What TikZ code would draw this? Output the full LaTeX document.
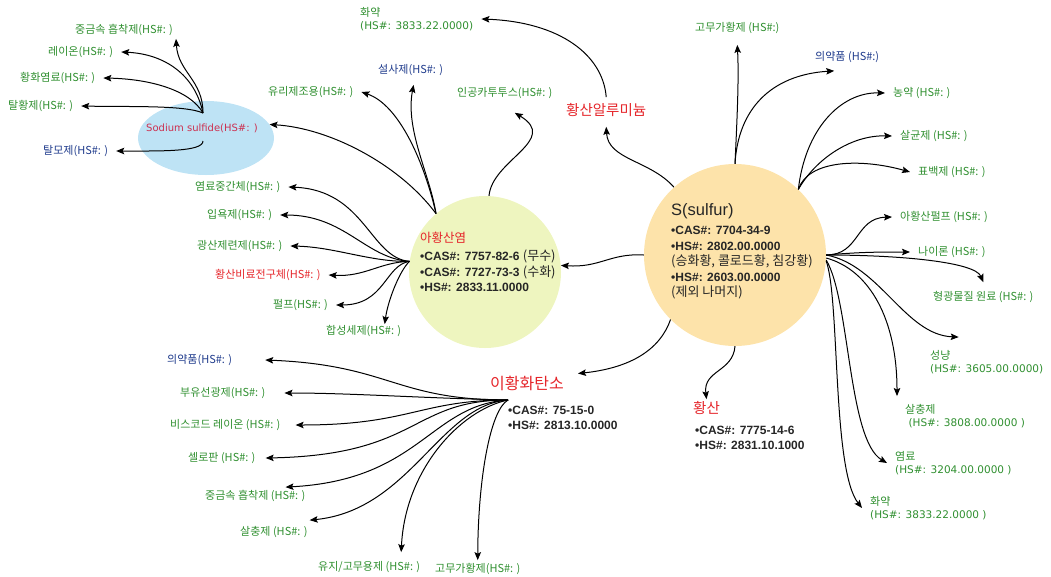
\documentclass[tikz,border=0pt]{standalone}
\usepackage{fontspec}
\setmainfont{Noto Sans CJK KR}
\newfontfamily\kr{Noto Sans CJK KR}
\newfontfamily\dv{DejaVu Sans}
\newfontfamily\lsb{Liberation Sans}
\newcommand\hn[1]{{\dv\fontsize{10.5}{13}\selectfont #1}}
\newcommand\kb[1]{{\kr\mdseries\fontsize{13}{15.5}\selectfont #1}}
\usetikzlibrary{arrows.meta,calc,shapes.geometric}
\definecolor{lg}{HTML}{2F8F2F}
\definecolor{lb}{HTML}{1F3B8C}
\definecolor{lr}{HTML}{E5252A}
\definecolor{lp}{HTML}{CC3050}
\definecolor{fe}{HTML}{BEE3F5}
\definecolor{fy}{HTML}{EEF5BF}
\definecolor{fs}{HTML}{FDE3AA}
\begin{document}
\begin{tikzpicture}[x=1pt,y=-1pt,
  ar/.style={-{Stealth[length=8pt,width=6.5pt,inset=1.5pt]},line width=1pt,black},
  lf/.style={font=\kr\fontsize{11}{13}\selectfont,text=lg,inner xsep=8pt,inner ysep=3pt,anchor=west,align=left},
  lfb/.style={lf,text=lb},
  lfr/.style={lf,text=lr},
  ttl/.style={font=\kr\fontsize{14.5}{16}\selectfont,text=lr,inner sep=2pt,anchor=west},
  info/.style={font=\lsb\bfseries\fontsize{12}{15.5}\selectfont,text=black!85,inner sep=2pt,anchor=west,align=left}]
\useasboundingbox (0,0) rectangle (1051,576);

% main shapes
\node[ellipse,fill=fe,minimum width=136pt,minimum height=74pt,inner sep=0] (E) at (206,138) {};
\node[circle,fill=fy,minimum size=152pt,inner sep=0] (Y) at (485,272) {};
\node[circle,fill=fs,minimum size=182pt,inner sep=0] (S) at (735,255) {};

% texts in shapes
\node[font=\dv\fontsize{10}{12}\selectfont,text=lp,inner sep=2pt,anchor=west] (Et) at (144,128) {Sodium sulfide(HS\#: )};
\node[font=\lsb\fontsize{16.5}{18}\selectfont,text=black!85,inner sep=2pt,anchor=west] (St) at (669,211) {S(sulfur)};
\node[info] (Si) at (669,263) {•CAS\#: 7704-34-9\\•HS\#: 2802.00.0000\\\kb{(승화황, 콜로드황, 침강황)}\\•HS\#: 2603.00.0000\\\kb{(제외 나머지)}};
\node[ttl,font=\kr\fontsize{12.5}{14}\selectfont] (Yt) at (418,238) {아황산염};
\node[info] (Yi) at (418,271) {•CAS\#: 7757-82-6 \kb{(무수)}\\•CAS\#: 7727-73-3 \kb{(수화)}\\•HS\#: 2833.11.0000};
\node[ttl,font=\kr\fontsize{16}{18}\selectfont] (Ct) at (488,383) {이황화탄소};
\node[info] (Ci) at (506,418) {•CAS\#: 75-15-0\\•HS\#: 2813.10.0000};
\node[ttl] (Ht) at (691,408) {황산};
\node[info] (Hi) at (693,438) {•CAS\#: 7775-14-6\\•HS\#: 2831.10.1000};
\node[ttl] (A) at (564,110) {황산알루미늄};
\coordinate (Eo) at (203,113);
\coordinate (Eb) at (203,141);
\coordinate (Co) at (508,400);

% sodium sulfide leaves
\node[lf] (e1) at (67,30) {중금속 흡착제(HS\#: )};
\node[lf] (e2) at (40,52) {레이온(HS\#: )};
\node[lf] (e3) at (12,78) {황화염료(HS\#: )};
\node[lf] (e4) at (0,106) {탈황제(HS\#: )};
\node[lfb] (e5) at (35,151) {탈모제(HS\#: )};

% sulfite leaves
\node[lf] (y1) at (260,92) {유리제조용(HS\#: )};
\node[lfb] (y2) at (370,70) {설사제(HS\#: )};
\node[lf] (y3) at (449,93) {인공카투투스(HS\#: )};
\node[lf] (y4) at (187,187) {염료중간체(HS\#: )};
\node[lf] (y5) at (199,215) {입욕제(HS\#: )};
\node[lf] (y6) at (189,246) {광산제련제(HS\#: )};
\node[lfr] (y7) at (207,275) {황산비료전구체(HS\#: )};
\node[lf] (y8) at (265,305) {펄프(HS\#: )};
\node[lf] (y9) at (318,331) {합성세제(HS\#: )};
\node[lf] (T) at (352,19) {화약\\\hn{(HS\#: 3833.22.0000)}};

% sulfur leaves
\node[lf] (s1) at (687,28) {고무가황제 (HS\#:)};
\node[lfb] (s2) at (807,57) {의약품 (HS\#:)};
\node[lf] (s3) at (885,93) {농약 (HS\#: )};
\node[lf] (s4) at (892,136) {살균제 (HS\#: )};
\node[lf] (s5) at (910,172) {표백제 (HS\#: )};
\node[lf] (s6) at (892,217) {아황산펄프 (HS\#: )};
\node[lf] (s7) at (910,252) {나이론 (HS\#: )};
\node[lf] (s8) at (925,297) {형광물질 원료 (HS\#: )};
\node[lf] (s9) at (922,362) {성냥\\\hn{(HS\#: 3605.00.0000)}};
\node[lf] (s10) at (897,416) {살충제\\\hn{\ (HS\#: 3808.00.0000 )}};
\node[lf] (s11) at (887,463) {염료\\\hn{(HS\#: 3204.00.0000 )}};
\node[lf] (s12) at (862,508) {화약\\\hn{(HS\#: 3833.22.0000 )}};

% carbon disulfide leaves
\node[lfb] (c1) at (159,360) {의약품(HS\#: )};
\node[lf] (c2) at (172,393) {부유선광제(HS\#: )};
\node[lf] (c3) at (162,425) {비스코드 레이온 (HS\#: )};
\node[lf] (c4) at (180,458) {셀로판 (HS\#: )};
\node[lf] (c5) at (197,496) {중금속 흡착제 (HS\#: )};
\node[lf] (c6) at (232,532) {살충제 (HS\#: )};
\node[lf] (c7) at (310,567) {유지/고무용제 (HS\#: )};
\node[lf] (c8) at (427,569) {고무가황제(HS\#: )};

% sodium sulfide arrows
\draw[ar] (Eo) .. controls (203,80) and (178,72) .. ([xshift=-5pt]e1.south east);
\draw[ar] (Eo) .. controls (195,75) and (165,54) .. (e2.east);
\draw[ar] (Eo) .. controls (190,90) and (150,79) .. (e3.east);
\draw[ar] (Eo) .. controls (185,105) and (130,107) .. (e4.east);
\draw[ar] (Eb) .. controls (203,152) and (160,151) .. (e5.east);

% sulfite arrows
\draw[ar] (Y.130) .. controls (400,165) and (330,128) .. (E.12);
\draw[ar] (Y.130) .. controls (425,165) and (400,105) .. (y1.east);
\draw[ar] (Y.130) .. controls (430,175) and (405,130) .. ([xshift=3pt,yshift=-6pt]y2.south);
\draw[ar] (Y.87) .. controls (492,160) and (560,140) .. ([xshift=10pt,yshift=-11pt]y3.south);
\draw[ar] (Y.172) .. controls (370,258) and (365,190) .. (y4.east);
\draw[ar] (Y.172) .. controls (365,258) and (345,215) .. (y5.east);
\draw[ar] (Y.172) .. controls (370,262) and (335,247) .. (y6.east);
\draw[ar] (Y.172) .. controls (380,262) and (365,277) .. (y7.east);
\draw[ar] (Y.172) .. controls (385,265) and (385,305) .. (y8.east);
\draw[ar] (Y.172) .. controls (400,270) and (388,300) .. ([xshift=21pt,yshift=-2pt]y9.north);

% sulfur arrows
\draw[ar] (S.180) .. controls (610,253) and (600,268) .. (Y.5);
\draw[ar] (S.132) .. controls (650,160) and (608,160) .. ([yshift=-8pt]A.south);
\draw[ar] ([yshift=4pt]A.north) .. controls (603,55) and (560,22) .. (T.east);
\draw[ar] (S.90) .. controls (737,120) and (739,80) .. ([yshift=-8pt]s1.south);
\draw[ar] (S.90) .. controls (738,110) and (770,75) .. ([xshift=-13pt,yshift=-5pt]s2.south);
\draw[ar] (S.46) .. controls (805,130) and (840,92) .. (s3.west);
\draw[ar] (S.46) .. controls (815,160) and (850,135) .. (s4.west);
\draw[ar] (S.46) .. controls (808,160) and (860,158) .. (s5.west);
\draw[ar] (S.0) .. controls (860,255) and (855,218) .. (s6.west);
\draw[ar] (S.0) .. controls (860,252) and (880,252) .. (s7.west);
\draw[ar] (S.0) .. controls (900,255) and (975,262) .. ([yshift=6pt]s8.north);
\draw[ar] (S.0) .. controls (880,265) and (905,335) .. ([xshift=-28pt,yshift=10pt]s9.north);
\draw[ar] ([yshift=-3pt]S.0) .. controls (870,270) and (897,320) .. ([yshift=5pt]s10.north west);
\draw[ar] ([yshift=-5pt]S.0) .. controls (850,300) and (848,440) .. (s11.west);
\draw[ar] ([yshift=-6pt]S.0) .. controls (840,300) and (832,470) .. (s12.west);
\draw[ar] (S.225) .. controls (660,350) and (630,368) .. ([xshift=12pt]Ct.north east);
\draw[ar] (S.270) .. controls (733,372) and (703,370) .. (Ht.north);

% carbon disulfide arrows
\draw[ar] (Co) .. controls (395,400) and (390,365) .. ([xshift=25pt]c1.east);
\draw[ar] (Co) .. controls (420,398) and (350,393) .. ([xshift=11pt]c2.east);
\draw[ar] (Co) .. controls (420,400) and (410,425) .. ([xshift=7pt]c3.east);
\draw[ar] (Co) .. controls (410,400) and (420,455) .. ([xshift=2pt]c4.east);
\draw[ar] (Co) .. controls (430,405) and (420,480) .. ([xshift=-28pt]c5.north east);
\draw[ar] (Co) .. controls (440,405) and (410,510) .. ([xshift=-6pt,yshift=3pt]c6.north east);
\draw[ar] (Co) .. controls (460,410) and (405,470) .. ([xshift=32pt,yshift=6pt]c7.north);
\draw[ar] (Co) .. controls (490,410) and (478,480) .. (c8.north);
\end{tikzpicture}
\end{document}
